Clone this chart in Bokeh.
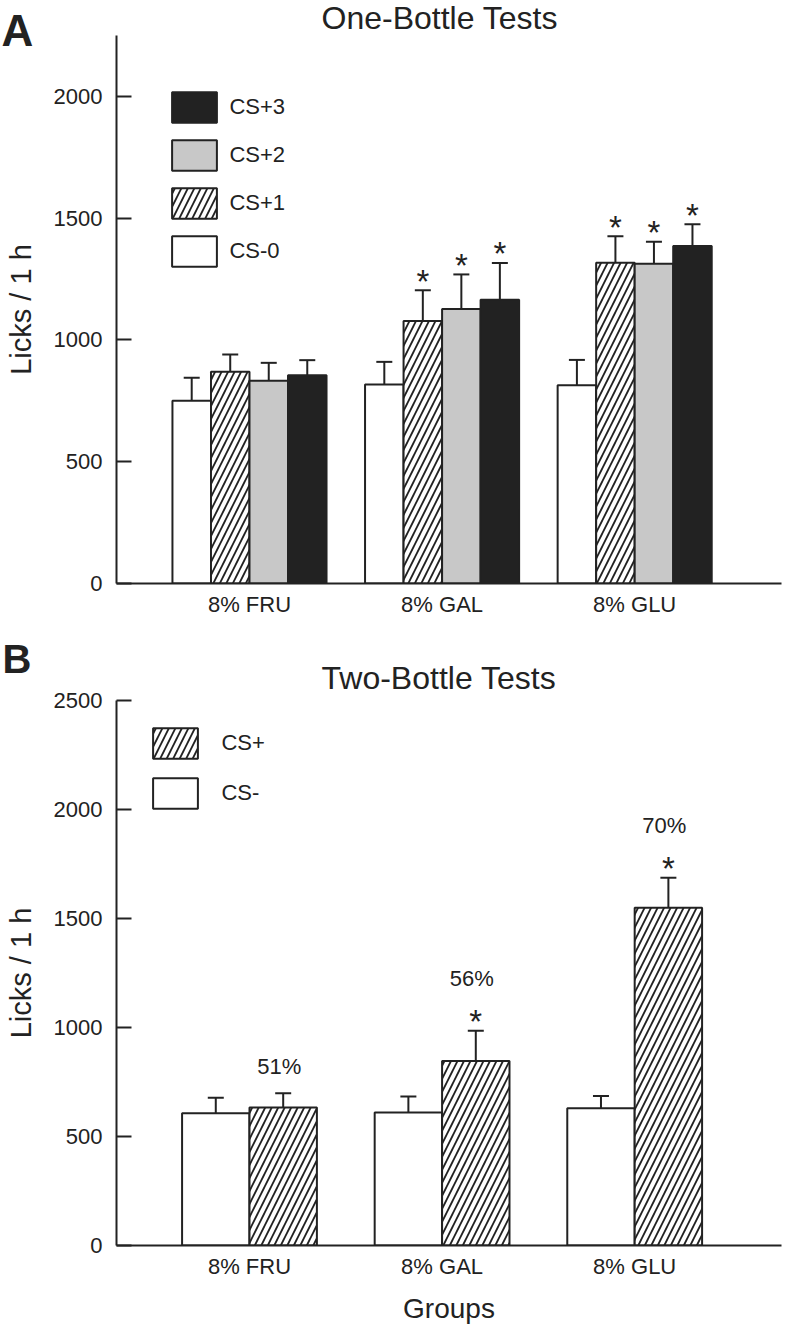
from bokeh.plotting import figure
from bokeh.models import (ColumnDataSource, Whisker, TeeHead, Legend, LegendItem,
                          Title, FixedTicker, Range1d)
from bokeh.layouts import column
from bokeh.embed import file_html
from bokeh.resources import INLINE
from bokeh.core.properties import value

FONT = "Liberation Sans"
INK = "#222222"

groups = ["8% FRU", "8% GAL", "8% GLU"]

# ---------------- Panel A: One-Bottle Tests ----------------
a_labels = ["CS-0", "CS+1", "CS+2", "CS+3"]
a_cs0 = [750, 817, 814]
a_cs0_sem = [95, 93, 104]
a_cs1 = [869, 1078, 1317]
a_cs1_sem = [71, 126, 109]
a_cs2 = [832, 1127, 1313]
a_cs2_sem = [74, 142, 90]
a_cs3 = [855, 1165, 1386]
a_cs3_sem = [62, 151, 89]
a_cs0_sig = [False, False, False]
a_cs1_sig = [False, True, True]
a_cs2_sig = [False, True, True]
a_cs3_sig = [False, True, True]
a_yticks = [0, 500, 1000, 1500, 2000]
a_ymax = 2250

# ---------------- Panel B: Two-Bottle Tests ----------------
b_labels = ["CS-", "CS+"]
b_csm = [607, 610, 630]
b_csm_sem = [71, 73, 56]
b_csp = [633, 846, 1549]
b_csp_sem = [65, 139, 138]
b_pct = ["51%", "56%", "70%"]
b_sig = [False, True, True]
b_yticks = [0, 500, 1000, 1500, 2000, 2500]
b_ymax = 2500

X0, X1 = -0.6905, 2.7623
LEFT = 116
RIGHT = 4
WIDTH = 785

STYLES = {
    "white": dict(fill_color="white"),
    "hatch": dict(fill_color="white", hatch_pattern="/", hatch_color=INK,
                  hatch_weight=1.8, hatch_scale=13),
    "gray": dict(fill_color="#c8c8c8"),
    "black": dict(fill_color="#222222"),
}


def make_fig(height, ymax, top, frame_h, ticks, ylabel):
    p = figure(width=WIDTH, height=height, x_range=Range1d(X0, X1),
               y_range=Range1d(0, ymax), output_backend="svg", title=None,
               toolbar_location=None, min_border_left=LEFT, min_border_right=RIGHT,
               min_border_top=top, min_border_bottom=height - top - frame_h)
    p.outline_line_color = None
    p.grid.visible = False
    p.background_fill_color = "white"
    p.border_fill_color = "white"
    ax = p.yaxis[0]
    ax.ticker = FixedTicker(ticks=ticks)
    ax.axis_line_width = 2
    ax.axis_line_color = INK
    ax.major_tick_in = 15
    ax.major_tick_out = 0
    ax.major_tick_line_width = 2
    ax.major_tick_line_color = INK
    ax.minor_tick_line_color = None
    ax.major_label_text_font = FONT
    ax.major_label_text_font_size = "22px"
    ax.major_label_text_color = INK
    ax.major_label_standoff = 14
    ax.axis_label = ylabel
    ax.axis_label_text_font = FONT
    ax.axis_label_text_font_size = "29px"
    ax.axis_label_text_font_style = "normal"
    ax.axis_label_text_color = INK
    ax.axis_label_standoff = 14
    bx = p.xaxis[0]
    bx.ticker = FixedTicker(ticks=list(range(len(groups))))
    bx.major_label_overrides = {i: g for i, g in enumerate(groups)}
    bx.axis_line_width = 2
    bx.axis_line_color = INK
    bx.major_tick_in = 0
    bx.major_tick_out = 0
    bx.minor_tick_line_color = None
    bx.major_label_text_font = FONT
    bx.major_label_text_font_size = "22px"
    bx.major_label_text_color = INK
    bx.major_label_standoff = 8
    bx.axis_label_text_font = FONT
    bx.axis_label_text_font_size = "28px"
    bx.axis_label_text_font_style = "normal"
    bx.axis_label_text_color = INK
    bx.axis_label_standoff = 11
    return p


def add_series(p, vals, sems, offset, width, style):
    xs = [i + offset for i in range(len(vals))]
    up = [v + e for v, e in zip(vals, sems)]
    src = ColumnDataSource(dict(x=xs, top=vals, up=up))
    r = p.vbar(x="x", top="top", bottom=0, width=width, source=src,
               line_color=INK, line_width=2, **STYLES[style])
    w = Whisker(base="x", lower="top", upper="up", source=src, dimension="height",
                line_color=INK, line_width=2, lower_head=None,
                upper_head=TeeHead(size=16, line_color=INK, line_width=2))
    p.add_layout(w)
    return r, xs, up


def title_obj(text, size, bold, offset, valign, standoff):
    return Title(text=text, align="left", offset=offset, vertical_align=valign,
                 standoff=standoff, text_font=FONT, text_font_size=size,
                 text_font_style="bold" if bold else "normal", text_color=INK)


GW, GH = 56, 38  # legend glyph area (drawn box is 80% of it)

# ---------------- figure A ----------------
A_FRAME_H = 548
pa = make_fig(628, a_ymax, 35, A_FRAME_H, a_yticks, "Licks / 1 h")
# above panel rows: first added is nearest to the frame
pa.add_layout(title_obj("A", "44px", True, -115, "top", -43), "above")
pa.add_layout(title_obj("One-Bottle Tests", "32px", False, 205, "middle", -18), "above")
a_ppu = A_FRAME_H / a_ymax  # pixels per unit

a_data = [(a_cs0, a_cs0_sem, a_cs0_sig, "white"),
          (a_cs1, a_cs1_sem, a_cs1_sig, "hatch"),
          (a_cs2, a_cs2_sem, a_cs2_sig, "gray"),
          (a_cs3, a_cs3_sem, a_cs3_sig, "black")]
a_offsets = [-0.3, -0.1, 0.1, 0.3]
a_renderers = []
star_x, star_y = [], []
for (vals, sems, sig, style), off in zip(a_data, a_offsets):
    r, xs, up = add_series(pa, vals, sems, off, 0.2, style)
    a_renderers.append(r)
    for x, u, s in zip(xs, up, sig):
        if s:
            star_x.append(x)
            star_y.append(u + 9 / a_ppu)
pa.text(x=star_x, y=star_y, text=["*"] * len(star_x), text_font=value(FONT),
        text_font_size="33px", text_align="center", text_baseline="alphabetic",
        text_color=INK)

legA = Legend(items=[LegendItem(label=lab, renderers=[r])
                     for lab, r in reversed(list(zip(a_labels, a_renderers)))],
              location=(50.4, A_FRAME_H - 53.2 - (4 * GH + 3 * 10)),
              glyph_width=GW, glyph_height=GH, spacing=10, padding=0, margin=0,
              label_standoff=7, border_line_color=None, background_fill_alpha=0,
              label_text_font=FONT, label_text_font_size="22px",
              label_text_color=INK, label_height=20)
pa.add_layout(legA)

# ---------------- figure B ----------------
B_FRAME_H = 546
pb = make_fig(698, b_ymax, 72, B_FRAME_H, b_yticks, "Licks / 1 h")
pb.xaxis[0].axis_label = "Groups"
pb.add_layout(title_obj("Two-Bottle Tests", "32px", False, 205, "top", 5), "above")
pb.add_layout(title_obj("B", "40px", True, -114, "bottom", -46), "above")
b_ppu = B_FRAME_H / b_ymax

rm, xm, upm = add_series(pb, b_csm, b_csm_sem, -0.175, 0.35, "white")
rp, xp, upp = add_series(pb, b_csp, b_csp_sem, 0.175, 0.35, "hatch")

bs_x = [x for x, s in zip(xp, b_sig) if s]
bs_y = [u + 9 / b_ppu for u, s in zip(upp, b_sig) if s]
pb.text(x=bs_x, y=bs_y, text=["*"] * len(bs_x), text_font=value(FONT),
        text_font_size="33px", text_align="center", text_baseline="alphabetic",
        text_color=INK)
pct_y = [u + (52 if s else 27) / b_ppu for u, s in zip(upp, b_sig)]
pb.text(x=xp, y=pct_y, text=b_pct, text_font=value(FONT), text_font_size="22px",
        text_align="center", text_baseline="alphabetic", text_color=INK,
        x_offset=-4)

legB = Legend(items=[LegendItem(label=b_labels[1], renderers=[rp]),
                     LegendItem(label=b_labels[0], renderers=[rm])],
              location=(31.4, B_FRAME_H - 25.2 - (2 * GH + 12)),
              glyph_width=GW, glyph_height=GH, spacing=12, padding=0, margin=0,
              label_standoff=18, border_line_color=None, background_fill_alpha=0,
              label_text_font=FONT, label_text_font_size="22px",
              label_text_color=INK, label_height=20)
pb.add_layout(legB)

layout = column(pa, pb, spacing=0)
open("out.html", "w").write(file_html(layout, INLINE))
